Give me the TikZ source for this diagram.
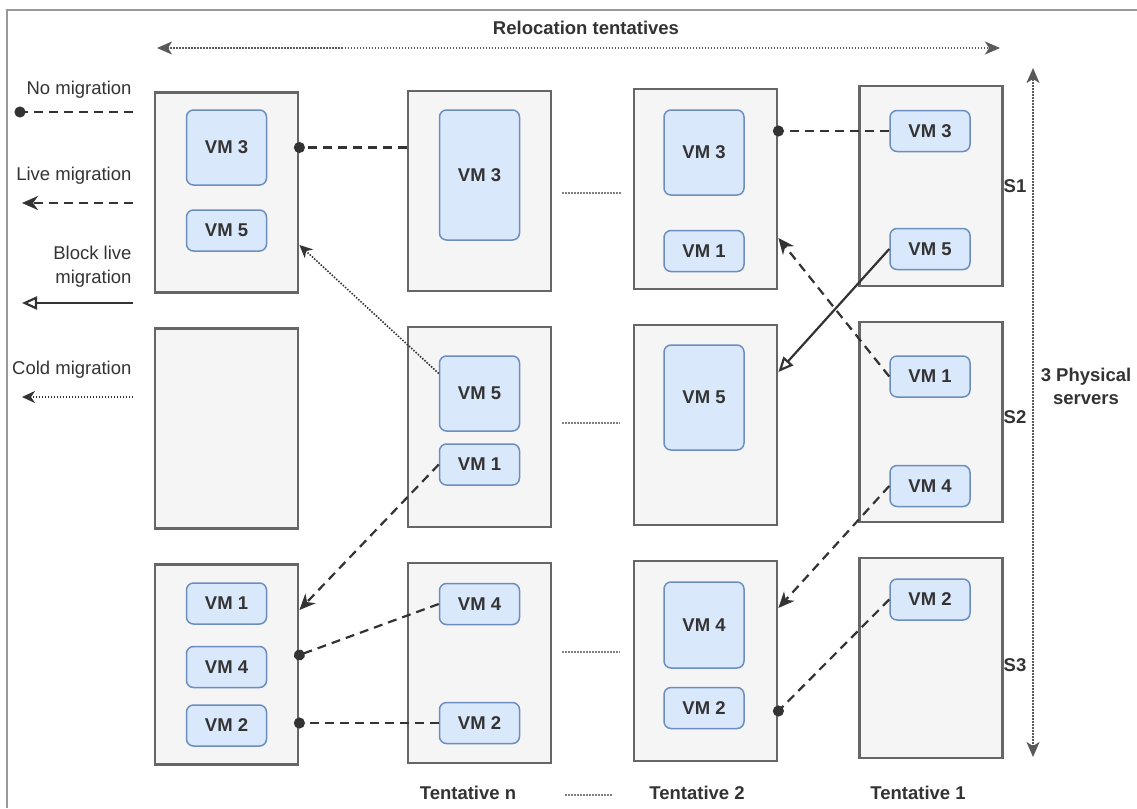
\documentclass[tikz,border=0pt]{standalone}
\usepackage{fontspec}
\setmainfont{Liberation Sans}
\usepackage{tikz}
\usetikzlibrary{arrows.meta}
\definecolor{vmfill}{HTML}{DAE8FC}
\definecolor{vmline}{HTML}{6C8EBF}
\definecolor{srvfill}{HTML}{F5F5F5}
\definecolor{srvline}{HTML}{666666}
\definecolor{ink}{HTML}{333333}

\begin{document}
\begin{tikzpicture}[x=1pt,y=-1pt,
  font=\fontsize{18.5}{24}\selectfont, text=ink,
  server/.style={draw=srvline, fill=srvfill, line width=2.8pt, minimum width=143pt, minimum height=200pt, inner sep=0pt},
  vm/.style={draw=vmline, fill=vmfill, line width=1.5pt, rounded corners=7pt, minimum width=80pt, minimum height=41pt, inner sep=0pt, font=\fontsize{18.5}{20}\selectfont\bfseries},
  lbl/.style={font=\fontsize{18.5}{23}\selectfont\bfseries},
  legend/.style={anchor=east, align=right},
  nomig/.style={draw=ink, line width=2.2pt, dash pattern=on 9pt off 6pt, shorten >=-5.5pt, -{Circle[length=11pt]}},
  live/.style={draw=ink, line width=2.2pt, dash pattern=on 9pt off 6pt, -{Stealth[length=16pt,width=14pt,inset=5pt]}},
  block/.style={draw=ink, line width=2.2pt, -{Triangle[open,length=15pt,width=13pt]}},
  cold/.style={draw=ink, line width=1.6pt, dash pattern=on 1.5pt off 1.5pt, -{Stealth[length=13pt,width=12pt,inset=4pt]}},
  spanarrow/.style={draw=gray!70!black, line width=1.5pt, dash pattern=on 1.5pt off 1.5pt, {Stealth[length=15pt,width=13pt,inset=4pt]}-{Stealth[length=15pt,width=13pt,inset=4pt]}},
  sepline/.style={draw=gray, line width=1.5pt, dash pattern=on 1.5pt off 1.5pt}]
\useasboundingbox (0,0) rectangle (1137,808);
%frame
\draw[gray!80, line width=1.2pt] (7,808) -- (7,10) -- (1137,10);

%servers
\node[server] (a1) at (226.5,192.5) {};
\node[server] (a2) at (226.5,428.5) {};
\node[server] (a3) at (226.5,664.5) {};
\node[server] (b1) at (479.5,191) {};
\node[server] (b2) at (479.5,427) {};
\node[server] (b3) at (479.5,663) {};
\node[server] (c1) at (705.5,189) {};
\node[server] (c2) at (705.5,425) {};
\node[server] (c3) at (705.5,661) {};
\node[server] (d1) at (931,186) {};
\node[server] (d2) at (931,422) {};
\node[server] (d3) at (931,658) {};

%left column
\node[vm, minimum height=75pt] (a1vm3) at (226.5,147.5) {VM 3};
\node[vm] (a1vm5) at (226.5,230.5) {VM 5};
\node[vm] (a3vm1) at (226.5,603.5) {VM 1};
\node[vm] (a3vm4) at (226.5,667) {VM 4};
\node[vm] (a3vm2) at (226.5,725.5) {VM 2};
%tentative n
\node[vm, minimum height=130pt] (b1vm3) at (479.5,175) {VM 3};
\node[vm, minimum height=75pt] (b2vm5) at (479.5,393.5) {VM 5};
\node[vm] (b2vm1) at (479.5,464.5) {VM 1};
\node[vm] (b3vm4) at (479.5,604) {VM 4};
\node[vm] (b3vm2) at (479.5,723) {VM 2};
%tentative 2
\node[vm, minimum height=85pt] (c1vm3) at (704,152.5) {VM 3};
\node[vm] (c1vm1) at (704,251) {VM 1};
\node[vm, minimum height=105pt] (c2vm5) at (704,397.5) {VM 5};
\node[vm, minimum height=86pt] (c3vm4) at (704,625) {VM 4};
\node[vm] (c3vm2) at (704,708) {VM 2};
%tentative 1
\node[vm] (d1vm3) at (930,131) {VM 3};
\node[vm] (d1vm5) at (930,249) {VM 5};
\node[vm] (d2vm1) at (930,376.5) {VM 1};
\node[vm] (d2vm4) at (930,486) {VM 4};
\node[vm] (d3vm2) at (930,599.5) {VM 2};

%labels
\node[lbl] (reloc) at (586,28) {Relocation tentatives};
\node[lbl] (s1) at (1015,186) {S1};
\node[lbl] (s2) at (1015,417) {S2};
\node[lbl] (s3) at (1015,665) {S3};
\node[lbl, align=center] (phys) at (1086,386) {3 Physical\\servers};
\node[lbl] (tn) at (468,793) {Tentative n};
\node[lbl] (t2) at (697,793) {Tentative 2};
\node[lbl] (t1) at (918,793) {Tentative 1};
\draw[spanarrow] (157,48) -- (1000,48);
\draw[spanarrow] (1033,757) -- (1033,68);
\draw[sepline] (562,193) -- (622,193);
\draw[sepline] (562,423) -- (620,423);
\draw[sepline] (562,652) -- (620,652);
\draw[sepline] (565,795) -- (613,795);

%legend
\node[legend] (lgno) at (135,90) {No migration};
\node[legend] (lglive) at (135,176) {Live migration};
\node[legend] (lgblock) at (135,266.5) {Block live\\migration};
\node[legend] (lgcold) at (135,370) {Cold migration};
\coordinate (lgnoa) at (133,112);  \coordinate (lgnob) at (20,112);
\coordinate (lglivea) at (133,203); \coordinate (lgliveb) at (22,203);
\coordinate (lgblocka) at (133,303); \coordinate (lgblockb) at (22,303);
\coordinate (lgcolda) at (133,397); \coordinate (lgcoldb) at (22,397);
\draw[nomig] (lgnoa) -- (lgnob);
\draw[live] (lglivea) -- (lgliveb);
\draw[block] (lgblocka) -- (lgblockb);
\draw[cold] (lgcolda) -- (lgcoldb);

%migrations
\draw[nomig] (b1.west |- a1vm3) -- (a1.east |- a1vm3);
\draw[nomig] (d1vm3.west) -- (c1.east |- d1vm3);
\draw[block] (d1vm5.west) -- ([yshift=53pt]c2.east);
\draw[live] (d2vm1.west) -- ([yshift=-49pt]c1.east);
\draw[live] (d2vm4.west) -- ([yshift=53pt]c3.east);
\draw[nomig] (d3vm2.west) -- ([yshift=-50pt]c3.east);
\draw[cold] ([yshift=20pt]b2vm5.west) -- ([yshift=-52.5pt]a1.east);
\draw[live] (b2vm1.west) -- ([yshift=54.5pt]a3.east);
\draw[nomig] (b3vm4.west) -- ([yshift=9.5pt]a3.east);
\draw[nomig] (b3vm2.west) -- (a3.east |- b3vm2);
\end{tikzpicture}
\end{document}
